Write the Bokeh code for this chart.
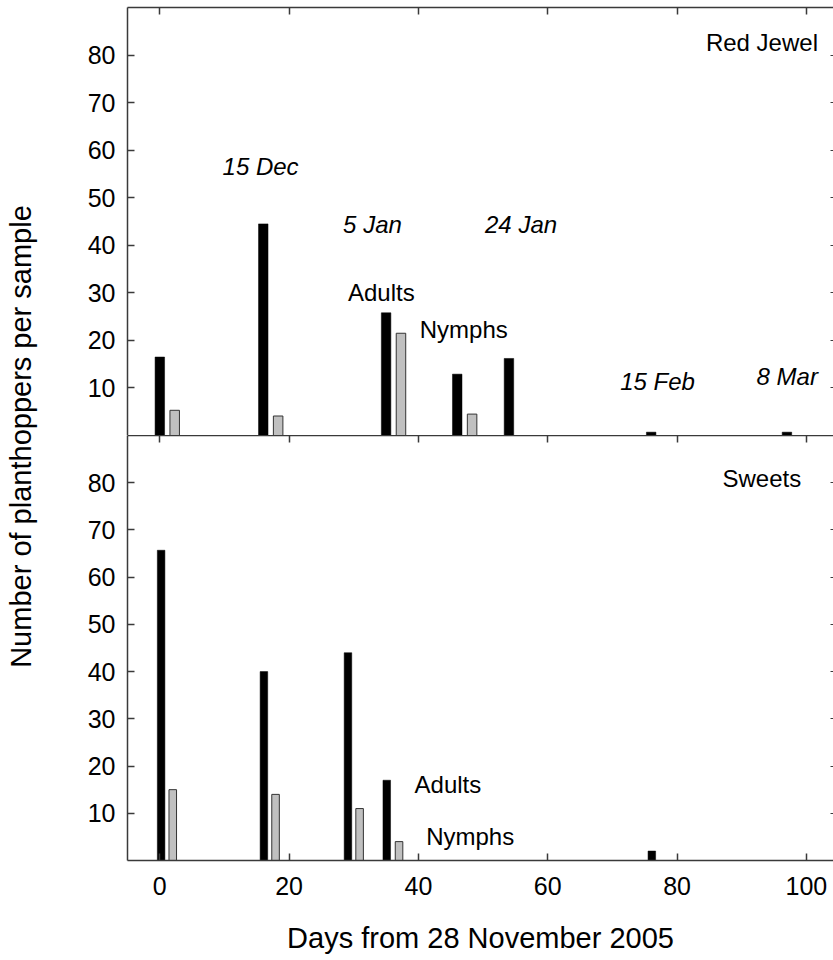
from math import pi
from bokeh.plotting import figure
from bokeh.models import FixedTicker, Range1d, Label, LinearAxis
from bokeh.layouts import row, column
from bokeh.core.properties import value
from bokeh.embed import file_html
from bokeh.resources import INLINE

# ---------------- data ----------------
# Red Jewel panel
rj_adult_day = [0, 16, 35, 46, 54, 76, 97]
rj_adult_n = [16.5, 44.5, 25.8, 12.9, 16.2, 0.7, 0.7]
rj_nymph_day = [2.3, 18.3, 37.3, 48.3]
rj_nymph_n = [5.3, 4.1, 21.5, 4.5]

# Sweets panel
sw_adult_day = [0.2, 16.1, 29.1, 35.1, 76.1]
sw_adult_n = [65.7, 40.0, 44.0, 17.0, 2.0]
sw_nymph_day = [2.0, 17.9, 30.9, 37.0]
sw_nymph_n = [15.0, 14.0, 11.0, 4.0]

x_ticks = [0, 20, 40, 60, 80, 100]
y_ticks = [10, 20, 30, 40, 50, 60, 70, 80]

date_labels = ["15 Dec", "5 Jan", "24 Jan", "15 Feb", "8 Mar"]
stage_labels = ["Adults", "Nymphs"]
panel_titles = ["Red Jewel", "Sweets"]
x_title = "Days from 28 November 2005"
y_title = "Number of planthoppers per sample"

# ---------------- style ----------------
FONT = "Liberation Sans"
AX = "#3a3a3a"
TICK_FS = "25px"
ANN_FS = "24px"
LBL_W = 45
MAIN_W = 788
FRAME_W = 706
TOP_PAD = 7
TOP_FRAME_H = 428
BOT_FRAME_H = 426
BOT_BORDER = 95


def hide_labels(ax):
    ax.major_label_text_color = None
    ax.major_label_standoff = 0


def style(p):
    p.add_layout(LinearAxis(), "right")
    for ax in p.xaxis + p.yaxis:
        ax.axis_line_color = AX
        ax.axis_line_width = 1.5
        ax.major_tick_line_color = AX
        ax.major_tick_line_width = 1.5
        ax.major_tick_in = 7
        ax.major_tick_out = 0
        ax.minor_tick_line_color = None
        ax.major_label_text_font = FONT
        ax.major_label_text_font_size = TICK_FS
        ax.major_label_text_color = "black"
    for ax in p.yaxis:
        ax.ticker = FixedTicker(ticks=y_ticks)
        ax.major_label_standoff = 12
    for ax in p.xaxis:
        ax.ticker = FixedTicker(ticks=x_ticks)
    for ax in p.above:
        hide_labels(ax)
    for ax in p.right:
        hide_labels(ax)
        ax.axis_line_color = None
        ax.major_tick_in = 3
        ax.major_tick_line_width = 1
    p.xgrid.visible = False
    p.ygrid.visible = False
    p.outline_line_color = None
    p.background_fill_color = "white"
    p.border_fill_color = "white"


def bars(p, ad, an, nd, nn, w):
    p.vbar(x=ad, top=an, bottom=0, width=w, fill_color="black", line_color="black", line_width=0.5)
    p.vbar(x=nd, top=nn, bottom=0, width=w, fill_color="#c0c0c0", line_color="#333333", line_width=1)


def txt(p, x, y, s, align="left", italic=False):
    p.text(x=[x], y=[y], text=[s], text_font=value(FONT), text_font_size=ANN_FS,
           text_font_style="italic" if italic else "normal", text_align=align,
           text_baseline="middle", text_color="black")


xr = Range1d(-5, 104.2)

# ---------------- top panel: Red Jewel ----------------
top = figure(width=MAIN_W, height=TOP_PAD + TOP_FRAME_H, x_range=xr, y_range=Range1d(0, 90),
             x_axis_location="above", output_backend="svg", toolbar_location=None,
             min_border_left=MAIN_W - FRAME_W, min_border_right=0,
             min_border_top=TOP_PAD, min_border_bottom=0)
style(top)
bars(top, rj_adult_day, rj_adult_n, rj_nymph_day, rj_nymph_n, 1.47)
txt(top, 9.7, 56.6, date_labels[0], italic=True)
txt(top, 28.35, 44.4, date_labels[1], italic=True)
txt(top, 50.3, 44.4, date_labels[2], italic=True)
txt(top, 71.2, 11.3, date_labels[3], italic=True)
txt(top, 92.3, 12.5, date_labels[4], italic=True)
txt(top, 29.1, 30.0, stage_labels[0])
txt(top, 40.2, 22.3, stage_labels[1])
txt(top, 101.8, 82.7, panel_titles[0], align="right")

# ---------------- bottom panel: Sweets ----------------
bot = figure(width=MAIN_W, height=BOT_FRAME_H + BOT_BORDER, x_range=xr, y_range=Range1d(0, 90),
             output_backend="svg", toolbar_location=None,
             min_border_left=MAIN_W - FRAME_W, min_border_right=0, min_border_top=0,
             min_border_bottom=BOT_BORDER)
bot.add_layout(LinearAxis(), "above")
style(bot)
xb = bot.below[0]
xb.major_label_standoff = 16
xb.axis_label = x_title
xb.axis_label_text_font = FONT
xb.axis_label_text_font_size = "29px"
xb.axis_label_text_font_style = "normal"
xb.axis_label_text_color = "black"
xb.axis_label_standoff = 24
bars(bot, sw_adult_day, sw_adult_n, sw_nymph_day, sw_nymph_n, 1.17)
txt(bot, 99.2, 80.9, panel_titles[1], align="right")
txt(bot, 39.4, 16.0, stage_labels[0])
txt(bot, 41.2, 5.1, stage_labels[1])

# ---------------- shared y-axis title ----------------
tot_h = TOP_PAD + TOP_FRAME_H + BOT_FRAME_H + BOT_BORDER
lab = figure(width=LBL_W, height=tot_h, x_range=Range1d(0, LBL_W), y_range=Range1d(0, tot_h),
             x_axis_type=None, y_axis_type=None, output_backend="svg", toolbar_location=None,
             min_border=0, outline_line_color=None)
lab.xgrid.visible = False
lab.ygrid.visible = False
lab.add_layout(Label(x=20, y=tot_h - 436, text=y_title, angle=pi / 2, text_align="center",
                     text_baseline="middle", text_font=FONT, text_font_size="29px",
                     text_color="black"))

layout = row(lab, column(top, bot))
open("out.html", "w").write(file_html(layout, INLINE))
